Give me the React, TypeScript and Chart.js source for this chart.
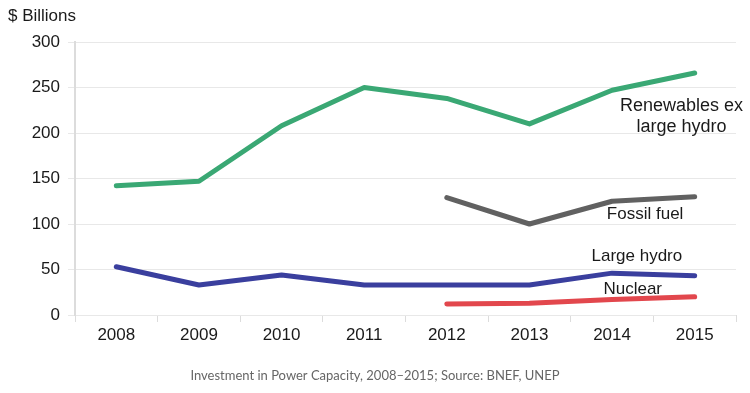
import React, { useEffect, useRef } from "react";
import { Chart, registerables } from "chart.js";

Chart.register(...registerables);

const years = ["2008", "2009", "2010", "2011", "2012", "2013", "2014", "2015"];
const renewables = [142, 147, 208, 250, 238, 210, 247, 266];
const fossilFuel = [null, null, null, null, 129, 100, 125, 130];
const largeHydro = [53, 33, 44, 33, 33, 33, 46, 43];
const nuclear = [null, null, null, null, 12, 13, 17, 20];
const yTicks = [0, 50, 100, 150, 200, 250, 300];

const FONT = "'Liberation Sans', Arial, sans-serif";

const labelPlugin = {
  id: "labels",
  afterDraw(chart: any) {
    const ctx = chart.ctx;
    const x = chart.scales.x;
    const y = chart.scales.y;
    ctx.save();
    ctx.fillStyle = "#1a1a1a";
    ctx.font = "18px " + FONT;
    ctx.textAlign = "center";
    ctx.textBaseline = "middle";
    const xr = x.getPixelForValue(6.84);
    ctx.fillText("Renewables ex", xr, y.getPixelForValue(230));
    ctx.fillText("large hydro", xr, y.getPixelForValue(207));
    ctx.font = "17px " + FONT;
    ctx.fillText("Fossil fuel", x.getPixelForValue(6.4), y.getPixelForValue(111));
    ctx.fillText("Large hydro", x.getPixelForValue(6.3), y.getPixelForValue(65));
    ctx.fillText("Nuclear", x.getPixelForValue(6.25), y.getPixelForValue(28));
    ctx.textAlign = "left";
    ctx.font = "17px " + FONT;
    ctx.fillText("$ Billions", 8, 16);
    ctx.textAlign = "center";
    ctx.fillStyle = "#666";
    ctx.font = "13px Lato, 'Open Sans', sans-serif";
    ctx.fillText("Investment in Power Capacity, 2008\u20132015; Source: BNEF, UNEP", 375, 376);
    ctx.restore();
  },
};

export default function App() {
  const ref = useRef<HTMLCanvasElement>(null);
  useEffect(() => {
    const chart = new Chart(ref.current!, {
      type: "line",
      data: {
        labels: years,
        datasets: [
          { label: "Renewables ex large hydro", data: renewables, borderColor: "#3aa874" },
          { label: "Fossil fuel", data: fossilFuel as any, borderColor: "#616161" },
          { label: "Large hydro", data: largeHydro, borderColor: "#3a3f9e" },
          { label: "Nuclear", data: nuclear as any, borderColor: "#e2474d" },
        ].map((d) => ({ ...d, borderWidth: 5, pointRadius: 0, tension: 0, borderCapStyle: "round" as const, borderJoinStyle: "round" as const, spanGaps: false })),
      },
      options: {
        animation: false,
        responsive: false,
        layout: { padding: { top: 42, right: 14, left: 0, bottom: 0 } },
        plugins: { legend: { display: false }, tooltip: { enabled: false } },
        scales: {
          x: {
            offset: true,
            grid: { display: true, drawOnChartArea: false, tickLength: 7, color: "#dcdcdc", offset: true },
            border: { display: false },
            ticks: { color: "#1a1a1a", font: { size: 17, family: FONT }, padding: 3, maxRotation: 0 },
            afterFit: (s: any) => { s.height = 78; },
          },
          y: {
            min: 0,
            max: 300,
            afterBuildTicks: (s: any) => { s.ticks = yTicks.map((v) => ({ value: v })); },
            grid: { color: "#e8e8e8", tickLength: 7, lineWidth: 1 },
            border: { display: true, color: "#dcdcdc", width: 2 },
            ticks: { color: "#1a1a1a", font: { size: 17, family: FONT }, padding: 8 },
            afterFit: (s: any) => { s.width = 75; },
          },
        },
      },
      plugins: [labelPlugin],
    });
    return () => chart.destroy();
  }, []);
  return (
    <div style={{ position: "fixed", left: 0, top: 0, width: 750, height: 393, background: "#fff" }}>
      <canvas ref={ref} width={750} height={393} style={{ display: "block" }} />
    </div>
  );
}
